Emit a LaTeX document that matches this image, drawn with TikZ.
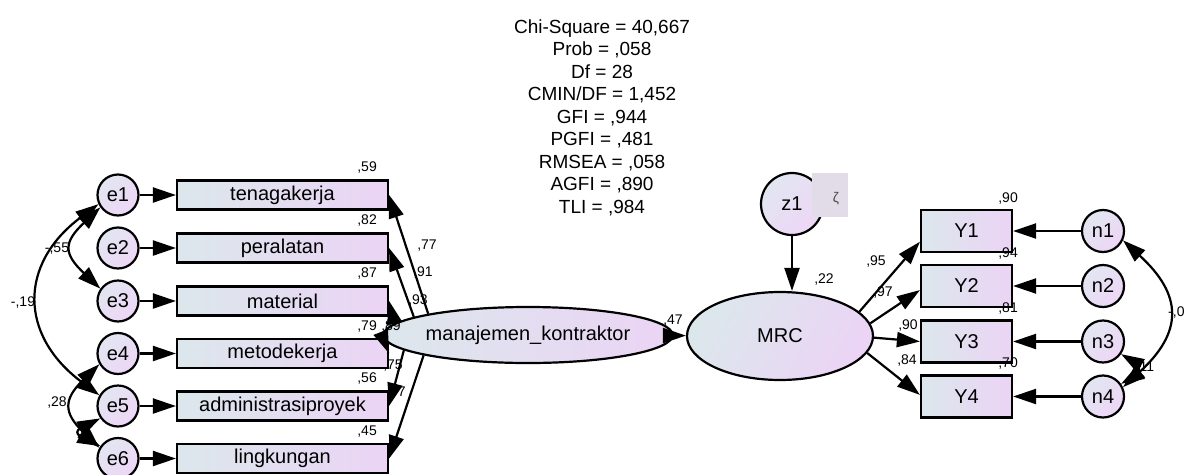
\documentclass[tikz,border=0pt]{standalone}
\usepackage{fontspec}
\setmainfont{Liberation Sans}
\usetikzlibrary{arrows.meta,shapes.geometric}
\definecolor{cA}{RGB}{220,231,236}
\definecolor{cB}{RGB}{235,212,245}
\definecolor{kA}{RGB}{226,230,241}
\definecolor{kB}{RGB}{238,214,246}
\definecolor{zetabg}{RGB}{226,220,232}
\begin{document}
\begin{tikzpicture}[x=1pt,y=1pt,
  big/.style={font=\fontsize{20}{24}\selectfont},
  small/.style={font=\fontsize{14}{16}\selectfont, inner sep=0pt},
  stat/.style={font=\fontsize{19}{22}\selectfont, inner sep=0pt, anchor=base},
  obs/.style={draw, line width=2.2pt, rectangle, inner sep=0pt, left color=cA, right color=cB, big},
  err/.style={draw, line width=2.2pt, circle, inner sep=0pt, left color=kA, right color=kB, shading angle=45, big},
  lat/.style={draw, line width=2.2pt, ellipse, inner sep=0pt, left color=cA, right color=cB, big},
  arr/.style={-{Triangle[length=23pt,width=15pt]}, line width=2.2pt},
  cov/.style={{Triangle[length=23pt,width=15pt]}-{Triangle[length=23pt,width=15pt]}, line width=2.2pt}]
\fill[white] (0,0) rectangle (1188,-474);
\useasboundingbox (0,0) rectangle (1188,-474);

% observed indicators (left)
\node[obs, minimum width=211pt, minimum height=29pt] (b1) at (282.5,-195) {tenagakerja};
\node[obs, minimum width=211pt, minimum height=29pt] (b2) at (282.5,-248) {peralatan};
\node[obs, minimum width=211pt, minimum height=29pt] (b3) at (282.5,-301) {material};
\node[obs, minimum width=211pt, minimum height=29pt] (b4) at (282.5,-353.5) {metodekerja};
\node[obs, minimum width=211pt, minimum height=29pt] (b5) at (282.5,-406) {administrasiproyek};
\node[obs, minimum width=211pt, minimum height=29pt] (b6) at (282.5,-458.5) {lingkungan};

% error terms
\node[err, minimum size=41pt] (e1) at (118,-195) {e1};
\node[err, minimum size=41pt] (e2) at (118,-248) {e2};
\node[err, minimum size=41pt] (e3) at (118,-301) {e3};
\node[err, minimum size=41pt] (e4) at (118,-353.5) {e4};
\node[err, minimum size=41pt] (e5) at (118,-406) {e5};
\node[err, minimum size=41pt] (e6) at (118,-458.5) {e6};

% latent variables
\node[lat, minimum width=220pt, minimum height=56pt] (mk) at (528,-335) {manajemen\_kontraktor};
\node[lat, minimum width=186pt, minimum height=88pt, shading angle=60] (mrc) at (780,-336) {MRC};
\node[err, minimum size=62pt] (z1) at (792,-204) {z1};
\node[fill=zetabg, minimum width=36pt, minimum height=44pt, inner sep=0pt] (zb) at (830,-195) {};
\node[small, text={rgb,255:red,70;green,70;blue,70}] (zeta) at (836,-199) {ζ};

% observed indicators (right)
\node[obs, minimum width=91pt, minimum height=42pt] (Y1) at (966.5,-231) {Y1};
\node[obs, minimum width=91pt, minimum height=42pt] (Y2) at (966.5,-286) {Y2};
\node[obs, minimum width=91pt, minimum height=42pt] (Y3) at (966.5,-341.5) {Y3};
\node[obs, minimum width=91pt, minimum height=42pt] (Y4) at (966.5,-396.5) {Y4};
\node[err, minimum size=42pt] (n1) at (1103,-231) {n1};
\node[err, minimum size=42pt] (n2) at (1103,-286) {n2};
\node[err, minimum size=42pt] (n3) at (1103,-341.5) {n3};
\node[err, minimum size=42pt] (n4) at (1103,-396.5) {n4};

% fit statistics
\node[stat] (s1) at (602,-33.3) {Chi-Square = 40,667};
\node[stat] (s2) at (602,-55.8) {Prob = ,058};
\node[stat] (s3) at (602,-78.3) {Df = 28};
\node[stat] (s4) at (602,-100.8) {CMIN/DF = 1,452};
\node[stat] (s5) at (602,-123.3) {GFI = ,944};
\node[stat] (s6) at (602,-145.8) {PGFI = ,481};
\node[stat] (s7) at (602,-168.3) {RMSEA = ,058};
\node[stat] (s8) at (602,-190.8) {AGFI = ,890};
\node[stat] (s9) at (602,-213.3) {TLI = ,984};

% R-square labels
\node[small, anchor=base east] (r1) at (377,-171.5) {,59};
\node[small, anchor=base east] (r2) at (377,-224.5) {,82};
\node[small, anchor=base east] (r3) at (377,-277.5) {,87};
\node[small, anchor=base east] (r4) at (377,-330) {,79};
\node[small, anchor=base east] (r5) at (377,-382.5) {,56};
\node[small, anchor=base east] (r6) at (377,-435) {,45};
\node[small, anchor=base east] (ry1) at (1018,-202) {,90};
\node[small, anchor=base east] (ry2) at (1018,-257) {,94};
\node[small, anchor=base east] (ry3) at (1018,-312.5) {,81};
\node[small, anchor=base east] (ry4) at (1018,-367.5) {,70};
\node[small] (r0) at (824,-280) {,22};

% loadings
\node[small] (l1) at (427,-246) {,77};
\node[small] (l2) at (423,-273) {,91};
\node[small] (l3) at (418,-301) {,93};
\node[small] (l4) at (391,-327) {,89};
\node[small] (l5) at (393,-366) {,75};
\node[small] (l6) at (396,-393) {,77};
\node[small] (lp) at (673,-321) {,47};
\node[small] (m1) at (876,-262) {,95};
\node[small] (m2) at (883,-293) {,97};
\node[small] (m3) at (908,-326) {,90};
\node[small] (m4) at (907,-361) {,84};

% covariance labels
\node[small] (c1) at (57,-249) {-,55};
\node[small] (c2) at (23,-303) {-,19};
\node[small] (c3) at (57,-403) {,28};
\node[small, anchor=west] (c4) at (1168,-313) {-,0};
\node[small] (c5) at (1145,-368) {,11};

% connectors
\foreach \i in {1,...,6} \draw[arr] (e\i) -- (b\i);
\draw[arr] (mk.168) -- (b1.east);
\draw[arr] (mk.171) -- (b2.east);
\draw[arr] (mk.175) -- (b3.east);
\draw[arr] (mk.181) -- (b4.east);
\draw[arr] (mk.187) -- (b5.east);
\draw[arr] (mk.191) -- (b6.east);
\draw[arr] (mk) -- (mrc);
\draw[arr] (z1) -- (z1 |- mrc.north);
\draw[arr] (mrc.17) -- (Y1.193);
\draw[arr] (mrc.8) -- (Y2.185);
\draw[arr] (mrc.-1) -- (Y3.180);
\draw[arr] (mrc.-11) -- (Y4.178);
\foreach \i in {1,...,4} \draw[arr] (n\i) -- (Y\i);

% covariances
\draw[cov] (e1.215) .. controls +(-37,-35) and +(-37,35) .. (e3.145);
\draw[cov] (e1.205) .. controls +(-80,-60) and +(-80,60) .. (e5.150);
\draw[cov] (e4.210) .. controls +(-36,-35) and +(-36,35) .. (e6.150);
\draw[cov] (e5.215) .. controls +(-24,-12) and +(-24,12) .. (e6.145);
\draw[cov] (n1.-25) .. controls +(60,-55) and +(60,55) .. (n4.25);
\draw[cov] (n3.-35) .. controls +(17,-10) and +(17,10) .. (n4.35);
\end{tikzpicture}
\end{document}
